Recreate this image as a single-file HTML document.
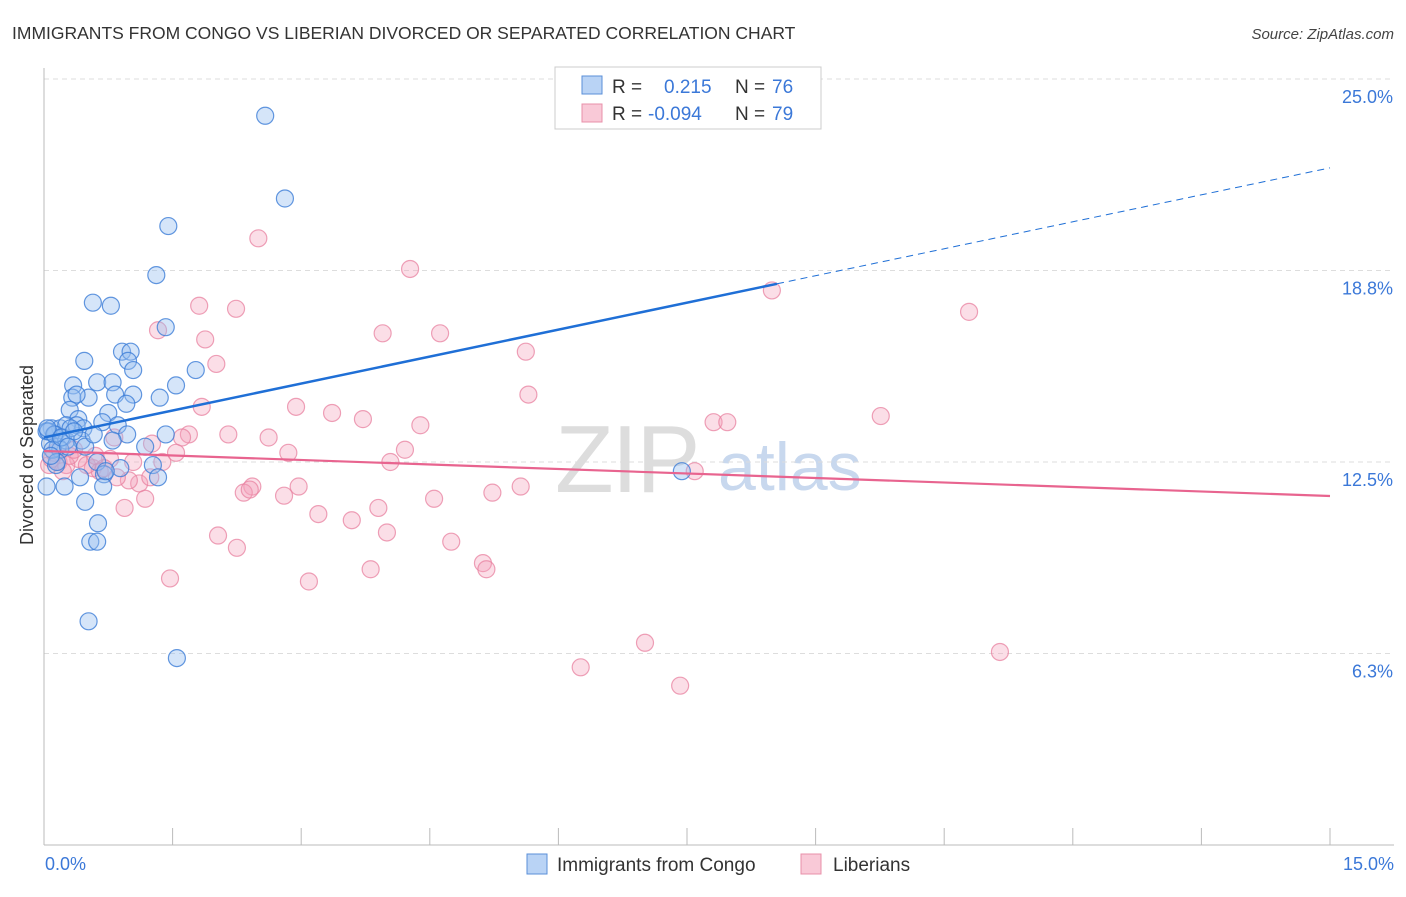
<!DOCTYPE html>
<html><head><meta charset="utf-8"><style>
body{margin:0;background:#fff;font-family:"Liberation Sans",sans-serif;}
svg text{font-family:"Liberation Sans",sans-serif;}
</style></head><body>
<svg id="chart" width="1406" height="892" xmlns="http://www.w3.org/2000/svg">
<text x="12" y="39" font-size="17.5" fill="#333">IMMIGRANTS FROM CONGO VS LIBERIAN DIVORCED OR SEPARATED CORRELATION CHART</text>
<text x="1394" y="39" font-size="15" fill="#444" font-style="italic" text-anchor="end">Source: ZipAtlas.com</text>
<g>
<text x="555" y="492" font-size="96" fill="#ddd" font-family="Liberation Serif" letter-spacing="-2">ZIP</text>
<text x="718" y="490" font-size="68" fill="#c8d8ee">atlas</text>
</g>
<g id="grid"></g>
<g id="axes"></g>
<g id="pts"></g>
<g id="trends"></g>
<text transform="translate(33,455) rotate(-90)" font-size="18" fill="#333" text-anchor="middle">Divorced or Separated</text>
<text x="45" y="870" font-size="18" fill="#3b78d8">0.0%</text>
<text x="1394" y="870" font-size="18" fill="#3b78d8" text-anchor="end">15.0%</text>
<g>
<rect x="555" y="67" width="266" height="62" fill="#fff" stroke="#ccc"/>
<rect x="582" y="76" width="20" height="18" fill="#b9d3f5" stroke="#5a8fd8"/>
<rect x="582" y="104" width="20" height="18" fill="#f9c9d7" stroke="#e890aa"/>
<text x="612" y="93" font-size="19" fill="#333">R = </text><text x="664" y="93" font-size="19" fill="#3b78d8">0.215</text>
<text x="735" y="93" font-size="19" fill="#333">N = </text><text x="772" y="93" font-size="19" fill="#3b78d8">76</text>
<text x="612" y="120" font-size="19" fill="#333">R = </text><text x="648" y="120" font-size="19" fill="#3b78d8">-0.094</text>
<text x="735" y="120" font-size="19" fill="#333">N = </text><text x="772" y="120" font-size="19" fill="#3b78d8">79</text>
</g>
<g>
<rect x="527" y="854" width="20" height="20" fill="#b9d3f5" stroke="#5a8fd8"/>
<text x="557" y="871" font-size="19" fill="#333">Immigrants from Congo</text>
<rect x="801" y="854" width="20" height="20" fill="#f9c9d7" stroke="#e890aa"/>
<text x="833" y="871" font-size="19" fill="#333">Liberians</text>
</g>
</svg>
<script>
const yTicks=[6.25,12.5,18.75,25];
const yTickLabels=["6.3%","12.5%","18.8%","25.0%"];
const xTicks=[0,1.5,3,4.5,6,7.5,9,10.5,12,13.5,15];
const congoX=[2.58,2.81,1.45,1.31,0.57,0.78,1.42,0.91,1.01,0.47,0.98,1.04,1.77,0.34,0.62,0.80,1.54,0.33,0.52,0.38,0.83,1.04,1.35,0.96,0.30,0.40,0.75,0.68,0.86,0.09,0.19,0.26,0.38,0.46,0.03,0.13,0.22,0.07,0.16,0.26,0.44,0.97,0.80,1.42,1.18,0.19,0.48,0.62,0.89,1.27,1.33,0.70,0.42,0.24,0.69,0.14,0.03,0.48,0.63,0.54,0.62,0.52,1.55,7.44,0.05,0.12,0.31,0.58,0.72,0.10,0.20,0.35,0.15,0.28,0.08,0.04];
const congoY=[23.8,21.1,20.2,18.6,17.7,17.6,16.9,16.1,16.1,15.8,15.8,15.5,15.5,15.0,15.1,15.1,15.0,14.6,14.6,14.7,14.7,14.7,14.6,14.4,14.2,13.9,14.1,13.8,13.7,13.6,13.6,13.7,13.7,13.6,13.5,13.4,13.3,13.1,13.0,13.2,13.2,13.4,13.2,13.4,13.0,12.9,13.0,12.5,12.3,12.4,12.0,12.1,12.0,11.7,11.7,12.4,11.7,11.2,10.5,9.9,9.9,7.3,6.1,12.2,13.5,13.4,13.6,13.4,12.2,12.9,13.3,13.5,12.5,13.0,12.7,13.6];
const libX=[2.50,4.27,8.49,10.79,1.81,2.24,1.33,3.95,4.62,1.88,5.62,2.01,5.65,1.84,2.94,3.36,3.72,4.39,9.76,7.81,7.97,2.15,1.69,1.61,2.62,0.82,4.21,1.26,2.85,1.54,4.04,1.38,1.04,0.40,0.17,0.26,0.57,0.65,7.59,1.11,1.24,0.99,2.43,2.97,2.33,2.80,5.56,5.23,4.55,1.18,3.90,3.20,3.59,0.94,2.03,4.00,2.25,4.75,5.12,5.16,3.81,1.47,3.09,7.01,6.26,11.15,7.42,0.06,0.09,0.77,0.30,0.50,0.70,0.12,2.40,0.22,0.35,0.60,0.85];
const libY=[19.8,18.8,18.1,17.4,17.6,17.5,16.8,16.7,16.7,16.5,16.1,15.7,14.7,14.3,14.3,14.1,13.9,13.7,14.0,13.8,13.8,13.4,13.4,13.3,13.3,13.3,12.9,13.1,12.8,12.8,12.5,12.5,12.5,12.6,12.5,12.4,12.3,12.2,12.2,11.8,12.0,11.9,11.7,11.7,11.5,11.4,11.7,11.5,11.3,11.3,11.0,10.8,10.6,11.0,10.1,10.2,9.7,9.9,9.2,9.0,9.0,8.7,8.6,6.6,5.8,6.3,5.2,12.4,12.6,12.6,12.7,12.4,12.3,12.8,11.6,12.2,12.9,12.7,12.0];
const congoTrend=[13.3,22.1];
const libTrend=[12.86,11.39];
const congoSolidEnd=8.55;
const NS="http://www.w3.org/2000/svg";
const X0=44,X1=1330,Y0=845,YT=79;
const sx=v=>X0+(v/15)*(X1-X0);
const sy=v=>Y0-(v/25)*(Y0-YT);
function mk(tag,attrs,parent){const e=document.createElementNS(NS,tag);for(const k in attrs)e.setAttribute(k,attrs[k]);parent.appendChild(e);return e;}
const grid=document.getElementById('grid'),axes=document.getElementById('axes'),pts=document.getElementById('pts'),tr=document.getElementById('trends');
yTicks.forEach((t,i)=>{
 const l=mk('line',{x1:X0,x2:1394,y1:sy(t),y2:sy(t),stroke:'#ddd','stroke-dasharray':'5,4'},grid);
 
 
 const tx=mk('text',{x:1393,y:sy(t)+24,'font-size':18,fill:'#3b78d8','text-anchor':'end'},grid);
 tx.textContent=yTickLabels[i];
 
 
});
const ax=mk('line',{x1:X0,x2:X0,y1:68,y2:Y0,stroke:'#bbb'},axes);


const bx=mk('line',{x1:X0,x2:1394,y1:Y0,y2:Y0,stroke:'#bbb'},axes);


xTicks.forEach(t=>{
 const l=mk('line',{x1:sx(t),x2:sx(t),y1:828,y2:Y0,stroke:'#bbb'},axes);
 
 
});
libX.forEach((x,i)=>{
 const c=mk('circle',{cx:sx(x),cy:sy(libY[i]),r:8.5,fill:'rgba(244,160,186,0.35)',stroke:'rgba(232,130,160,0.75)','stroke-width':1.2},pts);
 
 
});
congoX.forEach((x,i)=>{
 const c=mk('circle',{cx:sx(x),cy:sy(congoY[i]),r:8.5,fill:'rgba(150,190,240,0.4)',stroke:'rgba(60,125,215,0.8)','stroke-width':1.2},pts);
 
 
});
const cy=v=>congoTrend[0]+(congoTrend[1]-congoTrend[0])*v/15;
const t1=mk('line',{x1:sx(0),y1:sy(congoTrend[0]),x2:sx(congoSolidEnd),y2:sy(cy(congoSolidEnd)),stroke:'#1f6fd6','stroke-width':2.5},tr);


const t2=mk('line',{x1:sx(congoSolidEnd),y1:sy(cy(congoSolidEnd)),x2:sx(15),y2:sy(congoTrend[1]),stroke:'#1f6fd6','stroke-width':1,'stroke-dasharray':'7,5'},tr);


const t3=mk('line',{x1:sx(0),y1:sy(libTrend[0]),x2:sx(15),y2:sy(libTrend[1]),stroke:'#e8648f','stroke-width':2.2},tr);


</script>
</body></html>
